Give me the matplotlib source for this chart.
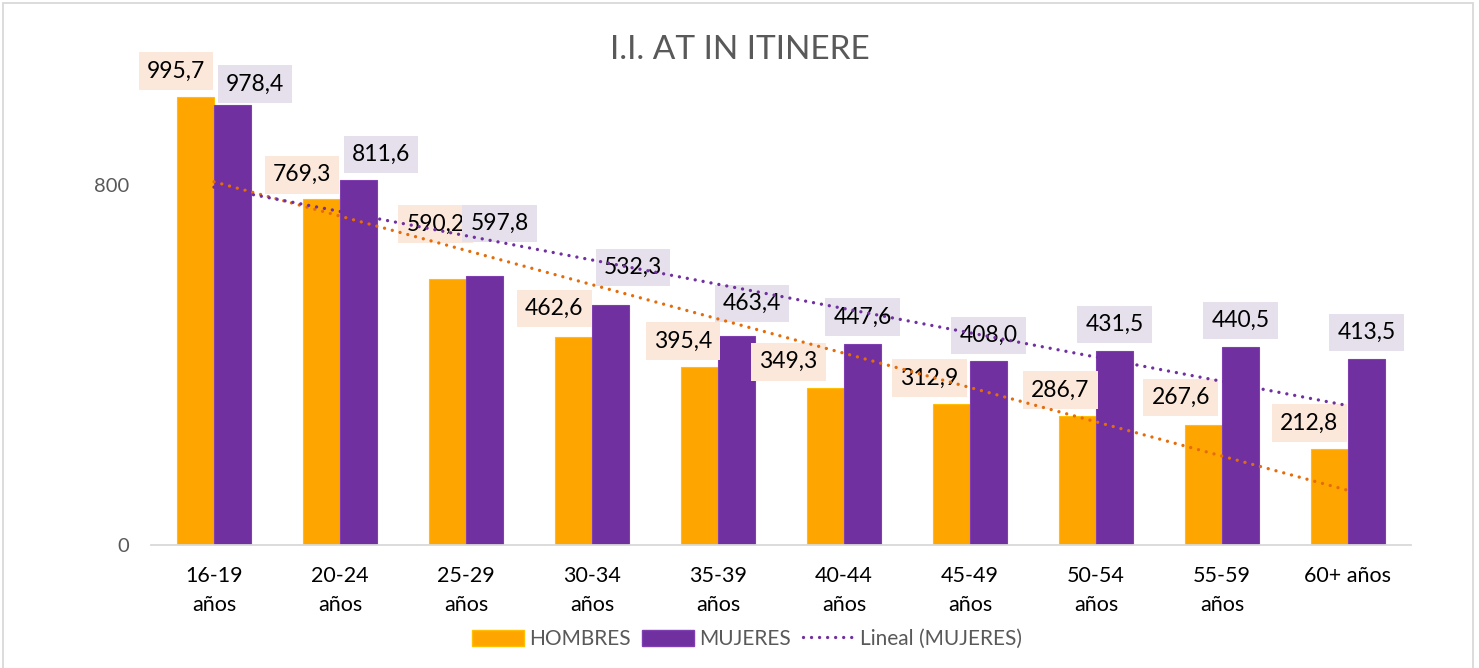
import numpy as np
import matplotlib
matplotlib.use('Agg')
import matplotlib.pyplot as plt
from matplotlib.patches import Rectangle, Patch
from matplotlib.lines import Line2D

plt.rcParams['font.family'] = ['Lato', 'DejaVu Sans']

# data
grupos = ['16-19\naños', '20-24\naños', '25-29\naños', '30-34\naños', '35-39\naños',
          '40-44\naños', '45-49\naños', '50-54\naños', '55-59\naños', '60+ años']
hombres = [995.7, 769.3, 590.2, 462.6, 395.4, 349.3, 312.9, 286.7, 267.6, 212.8]
mujeres = [978.4, 811.6, 597.8, 532.3, 463.4, 447.6, 408.0, 431.5, 440.5, 413.5]

# label nudges (pixels) to mimic the Excel collision layout
off_h = [(-19.5, 26), (-19.5, 24), (-12, 55.5), (-19, 28.5), (-16.5, 26),
         (-37, 26), (-22, 26), (-17, 26), (-22.5, 27), (-20, 26)]
off_m = [(22.5, 20.5), (22.5, 25.5), (15, 52.5), (22.5, 38), (15.5, 33),
         (0, 26.5), (0, 26), (0, 26.5), (0, 26.5), (0, 26.5)]

C_H = '#FFA500'
C_M = '#7030A0'
C_TH = '#E46C0A'
GRIS = '#595959'
DOTS = (0, (0.01, 2.4))

fig = plt.figure(figsize=(14.79, 6.68), dpi=100)
ax = fig.add_axes([151 / 1479, 1 - 545 / 668, 1260 / 1479, 495 / 668])

x = np.arange(len(grupos))
w = 0.294
ax.bar(x - w / 2, hombres, w, color=C_H, edgecolor='#FFC000', linewidth=0.8, zorder=2)
ax.bar(x + w / 2, mujeres, w, color=C_M, edgecolor='#7F3FB0', linewidth=0.8, zorder=2)

def fmt(v):
    return '{:.1f}'.format(v).replace('.', ',')

for i in range(len(x)):
    ax.annotate(fmt(hombres[i]), (x[i] - w / 2, hombres[i]), xytext=off_h[i],
                textcoords='offset pixels', ha='center', va='center', fontsize=16.5,
                color='black', zorder=4,
                bbox=dict(boxstyle='square,pad=0.36', fc='#FCE8DA', ec='none'))
    ax.annotate(fmt(mujeres[i]), (x[i] + w / 2, mujeres[i]), xytext=off_m[i],
                textcoords='offset pixels', ha='center', va='center', fontsize=16.5,
                color='black', zorder=4,
                bbox=dict(boxstyle='square,pad=0.36', fc='#E6E0EC', ec='none'))

# linear trends
xs = x + 1
for serie, col in [(hombres, C_TH), (mujeres, C_M)]:
    m, b = np.polyfit(xs, serie, 1)
    ax.plot(x, m * xs + b, color=col, lw=2.4, linestyle=DOTS,
            dash_capstyle='round', zorder=5)

ax.set_xlim(-0.5, len(x) - 0.5)
ax.set_ylim(0, 1100)
ax.set_yticks([0, 800])
ax.set_yticklabels(['0', '800'])
ax.set_xticks(x)
ax.set_xticklabels(grupos, fontsize=15.5, color='black', linespacing=1.55)
ax.tick_params(axis='y', length=0, pad=16, labelsize=14.5, labelcolor=GRIS)
ax.tick_params(axis='x', length=0, pad=15)
for s in ['top', 'right', 'left']:
    ax.spines[s].set_visible(False)
ax.spines['bottom'].set_color('#D9D9D9')
ax.spines['bottom'].set_linewidth(1.3)

fig.text(740 / 1479, 1 - 50 / 668, 'I.I. AT IN ITINERE', ha='center', va='center',
         fontsize=24, color=GRIS, fontweight='normal')

handles = [Patch(facecolor=C_H, edgecolor='#FFC000'),
           Patch(facecolor=C_M, edgecolor='#7F3FB0'),
           Line2D([0], [0], color=C_M, lw=2.4, linestyle=DOTS,
                  dash_capstyle='round')]
fig.legend(handles, ['HOMBRES', 'MUJERES', 'Lineal (MUJERES)'], loc='center',
           bbox_to_anchor=(747 / 1479, 1 - 639 / 668), ncol=3, frameon=False,
           fontsize=15, labelcolor=GRIS, handlelength=2.5, handleheight=0.8,
           handletextpad=0.25, columnspacing=0.55)

fig.patches.append(Rectangle((3 / 1479, -0.01), 1470 / 1479, 1 - 3 / 668 + 0.01,
                             transform=fig.transFigure, fill=False,
                             ec='#D9D9D9', lw=1.3))

fig.savefig('out.png', dpi=100)
